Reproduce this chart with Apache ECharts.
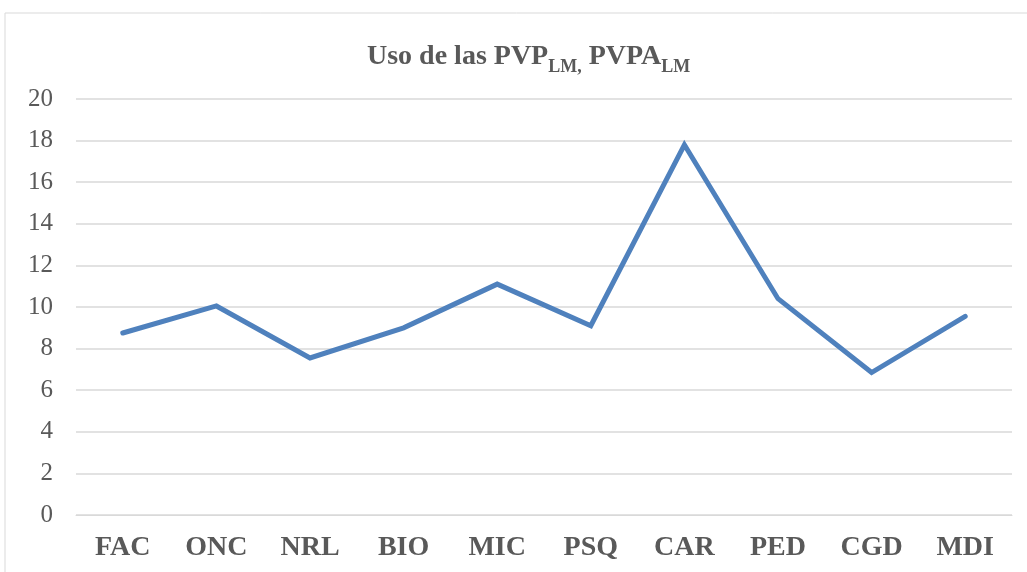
<!DOCTYPE html>
<html>
<head>
    <meta charset="utf-8">
    <title>Uso de las PVP</title>
    <script type="text/javascript" src="https://cdn.jsdelivr.net/npm/echarts@6/dist/echarts.min.js"></script>
    <style>
    html, body { margin: 0; padding: 0; background: #fff; }
    </style>
</head>
<body>
    <div id="main" style="width:1027px;height:572px"></div>
    <script>
    var categories = ['FAC', 'ONC', 'NRL', 'BIO', 'MIC', 'PSQ', 'CAR', 'PED', 'CGD', 'MDI'];
    var values = [8.75, 10.05, 7.55, 9.0, 11.1, 9.1, 17.8, 10.4, 6.85, 9.55];
    var yTicks = { min: 0, max: 20, step: 2 };

    var serif = '"Liberation Serif", "DejaVu Serif", serif';

    var option = {
        backgroundColor: '#fff',
        animation: false,
        title: {
            left: 362,
            top: 30,
            text: '{m|Uso de las PVP}{s|LM,}{m| PVPA}{s|LM}',
            textStyle: {
                rich: {
                    m: { fontFamily: serif, fontWeight: 'bold', fontSize: 28, color: '#595959', lineHeight: 36, verticalAlign: 'bottom' },
                    s: { fontFamily: serif, fontWeight: 'bold', fontSize: 18, color: '#595959', lineHeight: 26, verticalAlign: 'bottom', padding: [0, 0, -5, 0] }
                }
            }
        },
        graphic: [{
            type: 'rect',
            shape: { x: 5, y: 13, width: 1040, height: 600 },
            style: { fill: 'none', stroke: '#d9d9d9', lineWidth: 1 },
            silent: true
        }],
        grid: { left: 76, right: 15, top: 99, bottom: 57 },
        xAxis: {
            type: 'category',
            data: categories,
            boundaryGap: true,
            axisLine: { show: true, lineStyle: { color: '#d9d9d9', width: 1 } },
            axisTick: { show: false },
            axisLabel: {
                margin: 19,
                fontFamily: serif,
                fontWeight: 'bold',
                fontSize: 28,
                color: '#595959'
            }
        },
        yAxis: {
            type: 'value',
            min: yTicks.min,
            max: yTicks.max,
            interval: yTicks.step,
            axisLine: { show: false },
            axisTick: { show: false },
            axisLabel: {
                margin: 23,
                fontFamily: serif,
                fontSize: 25,
                color: '#595959'
            },
            splitLine: { lineStyle: { color: '#d9d9d9', width: 1.5 } }
        },
        series: [{
            type: 'line',
            data: values,
            symbol: 'none',
            lineStyle: { color: '#4f81bd', width: 5, cap: 'round', join: 'miter' }
        }]
    };

    var myChart = echarts.init(document.getElementById('main'));
    myChart.setOption(option);
    </script>
</body>
</html>
